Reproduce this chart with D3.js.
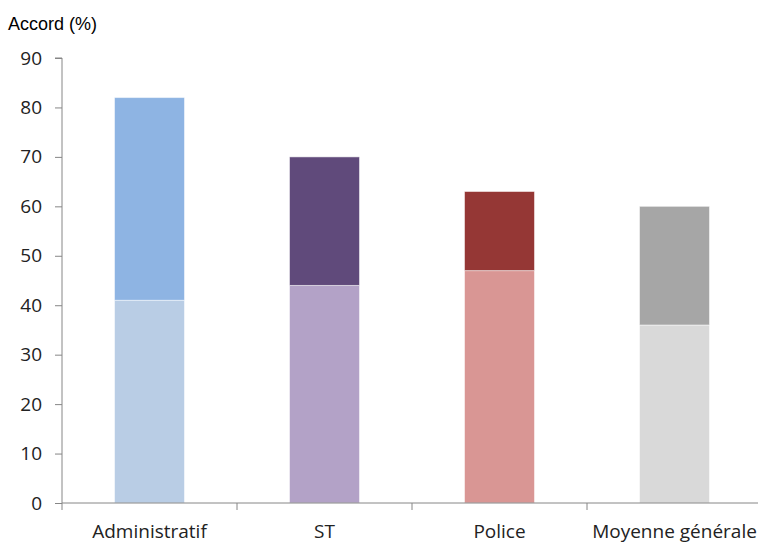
<!DOCTYPE html>
<html>
<head>
<meta charset="utf-8">
<script src="https://cdn.jsdelivr.net/npm/d3@7"></script>
<style>
  html, body { margin: 0; padding: 0; background: #fff; }
  svg { display: block; }
</style>
</head>
<body>
<svg id="chart" width="758" height="545"></svg>
<script>
// Agreement rate by group: lower segment and total height of each bar
const categories = ["Administratif", "ST", "Police", "Moyenne générale"];
const lowerValues = [41, 44, 47, 36];
const totalValues = [82, 70, 63, 60];
const yTicks = [0, 10, 20, 30, 40, 50, 60, 70, 80, 90];
const lowerColors = ["#B9CDE5", "#B3A2C7", "#D99694", "#D9D9D9"];
const upperColors = ["#8EB4E3", "#604A7B", "#953735", "#A6A6A6"];

const svg = d3.select("#chart");
const plotLeft = 62, plotRight = 762, plotTop = 58, plotBottom = 503;

const x = d3.scaleBand().domain(categories).range([plotLeft, plotRight]).paddingInner(0.6).paddingOuter(0.3);
const y = d3.scaleLinear().domain([0, 90]).range([plotBottom, plotTop]);

const rows = categories.map((c, i) => ({ cat: c, lower: lowerValues[i], upper: totalValues[i] - lowerValues[i], i }));
const stack = d3.stack().keys(["lower", "upper"])(rows);

const groups = svg.append("g").selectAll("g").data(stack).join("g");
groups.selectAll("rect")
  .data(s => s.map(d => ({ s: s.key, d })))
  .join("rect")
  .attr("x", o => x(o.d.data.cat))
  .attr("width", x.bandwidth())
  .attr("y", o => y(o.d[1]))
  .attr("height", o => y(o.d[0]) - y(o.d[1]))
  .attr("fill", o => o.s === "lower" ? lowerColors[o.d.data.i] : upperColors[o.d.data.i])
  .attr("stroke", "rgba(255,255,255,0.5)")
  .attr("stroke-width", 1);

// Y axis
const yAxis = svg.append("g").attr("transform", `translate(${plotLeft},0)`)
  .call(d3.axisLeft(y).tickValues(yTicks).tickSize(7).tickPadding(13));
yAxis.select(".domain").attr("stroke", "#868686").attr("d", `M-7,${plotTop}H0V${plotBottom}`);
yAxis.selectAll(".tick line").attr("stroke", "#868686");
yAxis.selectAll(".tick text")
  .attr("font-family", "'Open Sans', sans-serif")
  .attr("font-size", 19)
  .attr("fill", "#222");

// X axis with boundary ticks between categories
svg.append("line").attr("x1", plotLeft).attr("x2", 758).attr("y1", plotBottom).attr("y2", plotBottom)
  .attr("stroke", "#868686");
const bounds = categories.slice(1).map(c => x(c) - x.step() * x.paddingInner() / 2);
svg.append("g").selectAll("line").data(bounds).join("line")
  .attr("x1", d => d).attr("x2", d => d)
  .attr("y1", plotBottom).attr("y2", plotBottom + 7)
  .attr("stroke", "#868686");
svg.append("line").attr("x1", plotLeft).attr("x2", plotLeft).attr("y1", plotBottom).attr("y2", plotBottom + 7)
  .attr("stroke", "#868686");

svg.append("g").selectAll("text").data(categories).join("text")
  .attr("x", d => x(d) + x.bandwidth() / 2)
  .attr("y", 538)
  .attr("text-anchor", "middle")
  .attr("font-family", "'Open Sans', sans-serif")
  .attr("font-size", 19)
  .attr("fill", "#222")
  .text(d => d);

svg.append("text")
  .attr("x", 8).attr("y", 30)
  .attr("font-family", "'Liberation Sans', Arial, sans-serif")
  .attr("font-size", 18)
  .attr("fill", "#000")
  .text("Accord (%)");
</script>
</body>
</html>
